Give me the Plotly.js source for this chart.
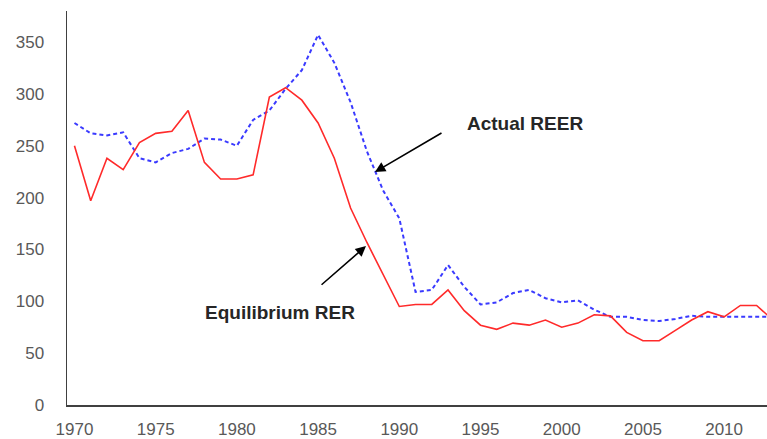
<!DOCTYPE html>
<html>
<head>
<meta charset="utf-8">
<script src="https://cdn.plot.ly/plotly-3.0.1.min.js"></script>
<style>html,body{margin:0;padding:0;background:#fff;}#chart{width:767px;height:439px;}</style>
</head>
<body>
<div id="chart"></div>
<script>
const years = [];
for (let y = 1970; y <= 2013; y++) years.push(y);

const equilibriumRER = [250,197,238,227,253,262,264,284,234,218,
  218,222,297,306,294,272,238,190,157,126,
  95,97,97,111,91,77,73,79,77,82,
  75,79,87,86,70,62,62,72,82,90,
  85,96,96,82];

const actualREER = [272,262,260,263,238,234,243,247,257,256,
  250,275,284,305,323,357,330,292,245,207,
  180,109,111,135,114,97,99,108,111,103,
  99,101,92,85,85,82,81,83,86,85,
  85,85,85,85];

const xTickVals = [1970,1975,1980,1985,1990,1995,2000,2005,2010];
const yTickVals = [0,50,100,150,200,250,300,350];

const traces = [
  {x: years, y: actualREER, type: 'scatter', mode: 'lines', name: 'Actual REER',
   line: {color: '#3a3aff', width: 2, dash: '4px,3px'}},
  {x: years, y: equilibriumRER, type: 'scatter', mode: 'lines', name: 'Equilibrium RER',
   line: {color: '#ff2a2a', width: 1.6}}
];

const tickFont = {family: 'Liberation Sans, Arial, sans-serif', size: 17, color: '#595959'};
const annFont = {family: 'Liberation Sans, Arial, sans-serif', size: 19, color: '#262626'};

const layout = {
  width: 767, height: 439,
  margin: {l: 67, r: 0, t: 11, b: 34},
  paper_bgcolor: '#fff', plot_bgcolor: '#fff',
  showlegend: false,
  xaxis: {range: [1969.54, 2012.64], tickvals: xTickVals, showgrid: false, zeroline: false,
          showline: true, linecolor: '#404040', linewidth: 1.5, ticks: '',
          tickfont: tickFont, ticklabelstandoff: 8},
  yaxis: {range: [0, 380], tickvals: yTickVals, showgrid: false, zeroline: false,
          showline: true, linecolor: '#404040', linewidth: 1.5, ticks: '',
          tickfont: tickFont, ticklabelstandoff: 18},
  annotations: [
    {x: 1988.5, y: 224.7, ax: 1992.69, ay: 263.2, xref: 'x', yref: 'y', axref: 'x', ayref: 'y',
     showarrow: true, arrowhead: 2, arrowsize: 1.3, arrowwidth: 1.6, arrowcolor: '#000', text: ''},
    {x: 1987.95, y: 153.3, ax: 1985.12, ay: 114.7, xref: 'x', yref: 'y', axref: 'x', ayref: 'y',
     showarrow: true, arrowhead: 2, arrowsize: 1.3, arrowwidth: 1.6, arrowcolor: '#000', text: ''},
    {x: 1997.74, y: 271.9, xref: 'x', yref: 'y', showarrow: false, text: '<b>Actual REER</b>', font: annFont},
    {x: 1982.65, y: 89.7, xref: 'x', yref: 'y', showarrow: false, text: '<b>Equilibrium RER</b>', font: annFont}
  ]
};

Plotly.newPlot('chart', traces, layout, {staticPlot: true, displayModeBar: false});
</script>
</body>
</html>
